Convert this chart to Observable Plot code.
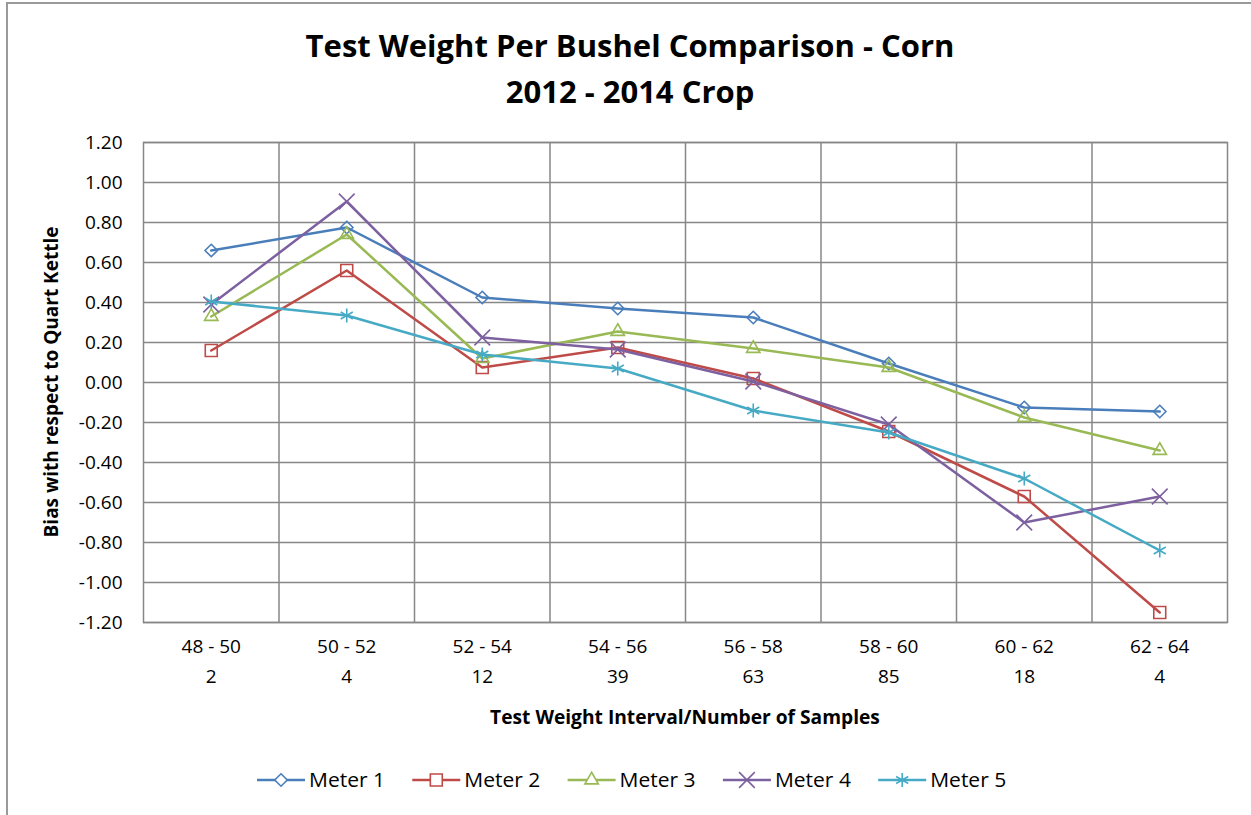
<!DOCTYPE html>
<html>
<head>
<meta charset="utf-8">
<script src="https://cdn.jsdelivr.net/npm/d3@7"></script>
<script src="https://cdn.jsdelivr.net/npm/@observablehq/plot@0.6"></script>
<style>
  html, body { margin: 0; padding: 0; background: #fff; }
  body { width: 1251px; height: 815px; position: relative; overflow: hidden; font-family: "Open Sans", Lato, sans-serif; }
  #frame { position: absolute; left: 6px; top: 2px; width: 1400px; height: 1000px; border: 2px solid #9a9a9a; box-sizing: border-box; }
  #title { position: absolute; left: 0; top: 22px; width: 1260px; text-align: center; font-weight: bold; font-size: 31px; line-height: 46px; color: #000; }
  #chart { position: absolute; left: 0; top: 122px; }
  #legend { position: absolute; left: 0; top: 764px; }
</style>
</head>
<body>
<div id="frame"></div>
<div id="title">Test Weight Per Bushel Comparison - Corn<br>2012 - 2014 Crop</div>
<div id="chart"></div>
<div id="legend"></div>
<script>
const categories = ["48 - 50", "50 - 52", "52 - 54", "54 - 56", "56 - 58", "58 - 60", "60 - 62", "62 - 64"];
const sampleCounts = ["2", "4", "12", "39", "63", "85", "18", "4"];
const seriesNames = ["Meter 1", "Meter 2", "Meter 3", "Meter 4", "Meter 5"];
const meter1 = [0.66, 0.775, 0.425, 0.37, 0.325, 0.095, -0.125, -0.145];
const meter2 = [0.16, 0.56, 0.075, 0.175, 0.02, -0.245, -0.57, -1.15];
const meter3 = [0.33, 0.74, 0.12, 0.255, 0.17, 0.075, -0.175, -0.34];
const meter4 = [0.39, 0.905, 0.225, 0.165, 0.005, -0.21, -0.70, -0.57];
const meter5 = [0.405, 0.335, 0.14, 0.07, -0.14, -0.25, -0.48, -0.84];
const yTicks = [-1.2, -1.0, -0.8, -0.6, -0.4, -0.2, 0, 0.2, 0.4, 0.6, 0.8, 1.0, 1.2];

const seriesValues = [meter1, meter2, meter3, meter4, meter5];
const colors = ["#4a7ebb", "#be4b48", "#98b954", "#7d60a0", "#46aac5"];
const symbols = ["diamond2", "square2", "triangle2", "times", "asterisk"];
const radii = [5.6, 7.6, 6.4, 7.2, 6.6];
const FONT = "'Open Sans', Lato, sans-serif";

const rows = [];
seriesValues.forEach((vals, s) => vals.forEach((v, i) => rows.push({series: seriesNames[s], idx: i, cat: categories[i], value: v})));
const catIndex = categories.map((c, i) => ({cat: c, n: sampleCounts[i], idx: i}));
const boundaries = d3.range(0.5, categories.length - 0.5, 1);

const gridColor = "#878787";
const marks = [
  Plot.ruleY(yTicks, {stroke: gridColor, strokeWidth: 1.5}),
  Plot.ruleX(boundaries, {stroke: gridColor, strokeWidth: 1.5}),
  Plot.frame({stroke: gridColor, strokeWidth: 1.5}),
  Plot.text(catIndex, {x: "idx", text: "cat", frameAnchor: "bottom", dy: 30, fontSize: 19, fill: "#000"}),
  Plot.text(catIndex, {x: "idx", text: "n", frameAnchor: "bottom", dy: 60, fontSize: 19, fill: "#000"})
];
seriesNames.forEach((name, s) => {
  const data = rows.filter(r => r.series === name);
  marks.push(Plot.line(data, {x: "idx", y: "value", stroke: colors[s], strokeWidth: 2.5}));
  marks.push(Plot.dot(data, {x: "idx", y: "value", stroke: colors[s], fill: "none", symbol: () => symbols[s], r: radii[s], strokeWidth: 1.6}));
});

const chart = Plot.plot({
  width: 1251,
  height: 610,
  marginLeft: 143,
  marginRight: 24,
  marginTop: 20,
  marginBottom: 110,
  style: {fontFamily: FONT, fontSize: "19px", color: "#000", background: "transparent"},
  x: {type: "linear", domain: [-0.5, categories.length - 0.5], axis: null},
  y: {domain: [-1.2, 1.2], ticks: yTicks, tickSize: 0, tickPadding: 21, tickFormat: d => d.toFixed(2), label: null},
  symbol: {type: "identity"},
  marks
});
document.getElementById("chart").appendChild(chart);

const svgNS = "http://www.w3.org/2000/svg";
function addText(parent, txt, attrs) {
  const t = document.createElementNS(svgNS, "text");
  for (const k in attrs) t.setAttribute(k, attrs[k]);
  t.textContent = txt;
  parent.appendChild(t);
  return t;
}
// x axis title
addText(chart, "Test Weight Interval/Number of Samples", {
  x: (143 + 1227) / 2, y: 602, "text-anchor": "middle", "font-weight": "bold", "font-size": 19.2, fill: "#000", "font-family": FONT
});
// y axis title
addText(chart, "Bias with respect to Quart Kettle", {
  transform: "translate(58,260) rotate(-90)", "text-anchor": "middle", "font-weight": "bold", "font-size": 19, fill: "#000", "font-family": FONT
});

// legend
const leg = d3.select("#legend").append("svg").attr("width", 1251).attr("height", 34);
const d3sym = [d3.symbolDiamond2, d3.symbolSquare2, d3.symbolTriangle2, d3.symbolTimes, d3.symbolAsterisk];
const startX = 257, step = 155.3;
seriesNames.forEach((name, s) => {
  const g = leg.append("g").attr("transform", `translate(${startX + s * step},16)`);
  g.append("line").attr("x1", 0).attr("x2", 48).attr("stroke", colors[s]).attr("stroke-width", 2.5);
  g.append("path").attr("transform", "translate(24,0)")
    .attr("d", d3.symbol(d3sym[s], Math.PI * radii[s] ** 2)())
    .attr("fill", "#fff").attr("stroke", colors[s]).attr("stroke-width", 1.6);
  g.append("text").attr("x", 52).attr("y", 7).attr("font-size", 19.5).attr("fill", "#000")
    .attr("font-family", FONT).attr("textLength", 76).attr("lengthAdjust", "spacingAndGlyphs").text(name);
});
</script>
</body>
</html>
